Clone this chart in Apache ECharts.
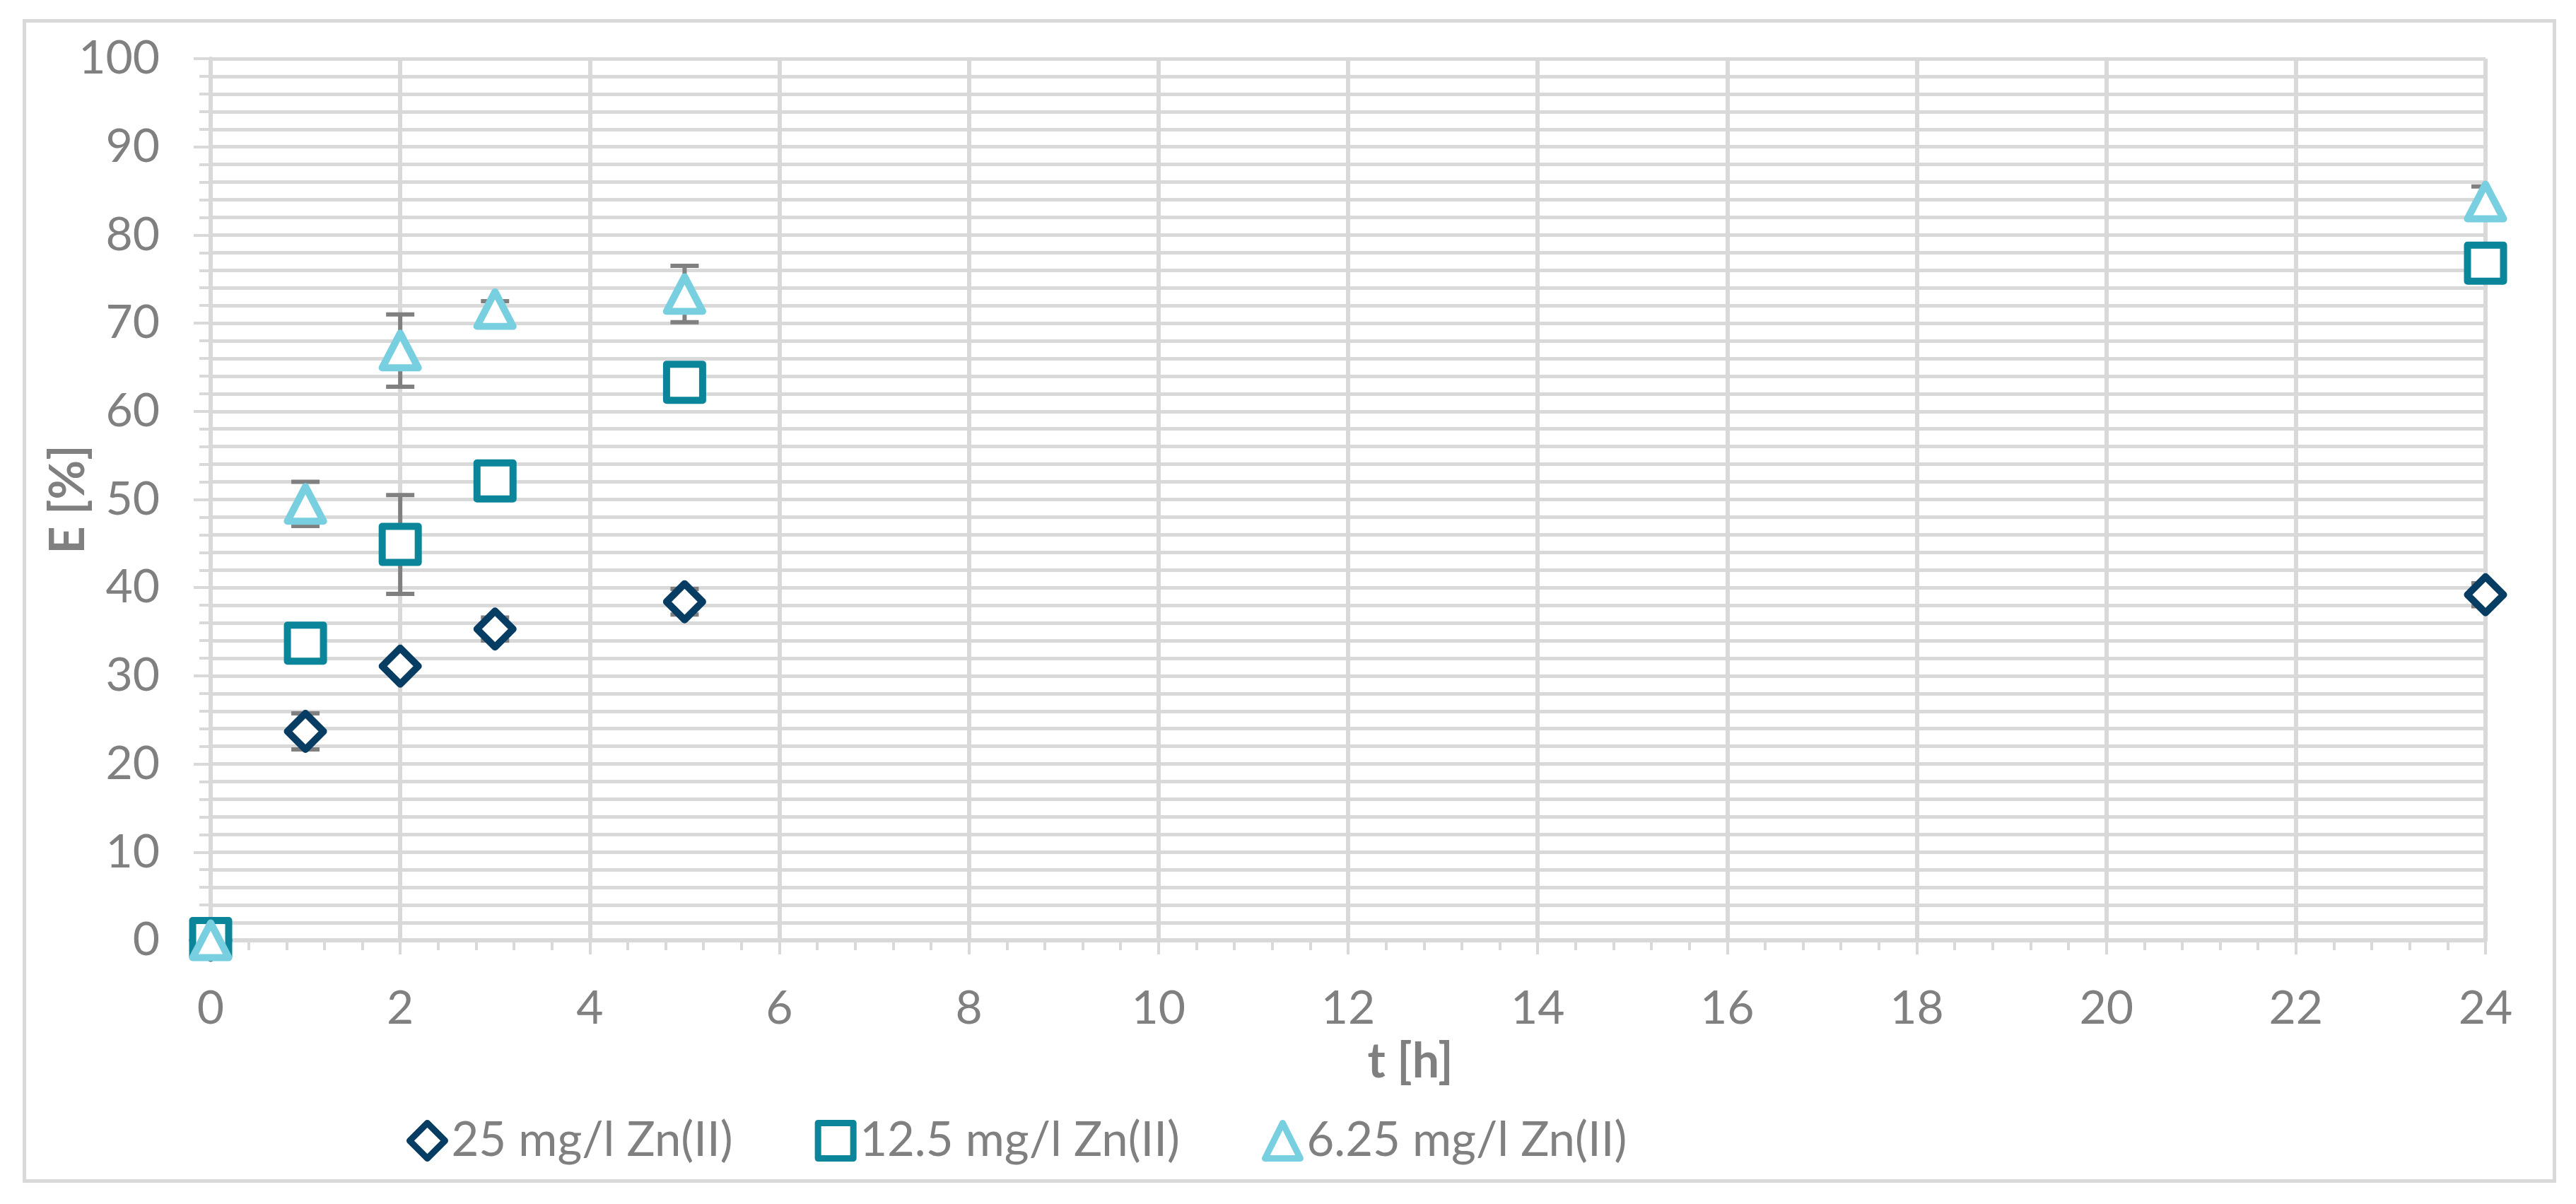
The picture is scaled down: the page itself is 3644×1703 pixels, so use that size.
<!DOCTYPE html>
<html>
<head>
<meta charset="utf-8">
<script src="https://cdn.jsdelivr.net/npm/echarts@6/dist/echarts.min.js"></script>
<style>
html,body{margin:0;padding:0;background:#fff;}
#frame{position:absolute;left:32px;top:27px;width:3574px;height:1636px;border:5px solid #d9d9d9;}
#chart{position:absolute;left:0;top:0;width:3644px;height:1703px;}
</style>
</head>
<body>
<div id="frame"></div>
<div id="chart"></div>
<script>
// ---- data ----
const times = [0, 1, 2, 3, 5, 24];
const seriesNames = ['25 mg/l Zn(II)', '12.5 mg/l Zn(II)', '6.25 mg/l Zn(II)'];
const e25 = [0, 23.7, 31.1, 35.3, 38.4, 39.2];
const e25Err = [0, 2.05, 0.5, 1.3, 1.45, 1.3];
const e125 = [0.2, 33.7, 44.9, 52.1, 63.3, 76.8];
const e125Err = [0, 1.0, 5.6, 1.0, 1.0, 1.0];
const e625 = [0, 49.5, 66.9, 71.6, 73.3, 83.8];
const e625Err = [0, 2.5, 4.1, 0.9, 3.2, 1.7];
const xTicks = [0, 2, 4, 6, 8, 10, 12, 14, 16, 18, 20, 22, 24];
const yTicks = [0, 10, 20, 30, 40, 50, 60, 70, 80, 90, 100];

const colors = ['#083D63', '#0B8599', '#77CFE0'];
const symbols = ['diamond', 'rect', 'triangle'];
const gray = '#808080';
const gridColor = '#d9d9d9';
const FONT = 'Lato, "Open Sans", sans-serif';

const valueSets = [e25, e125, e625];
const errSets = [e25Err, e125Err, e625Err];

function pts(vals) { return times.map((t, i) => [t, vals[i]]); }
function errPts(vals, errs) { return times.map((t, i) => [t, vals[i], errs[i]]); }

const chart = echarts.init(document.getElementById('chart'), null, {renderer: 'canvas'});

const series = [];
// error bars (behind markers)
valueSets.forEach((vals, k) => {
  series.push({
    type: 'custom',
    name: seriesNames[k] + ' err',
    data: errPts(vals, errSets[k]),
    encode: {x: 0, y: 1},
    clip: true,
    silent: true,
    z: 1,
    renderItem: function (params, api) {
      const x = api.value(0), y = api.value(1), e = api.value(2);
      if (!e) return null;
      const top = api.coord([x, y + e]);
      const bot = api.coord([x, y - e]);
      const hw = 20;
      const st = {stroke: gray, lineWidth: 6};
      return {
        type: 'group',
        children: [
          {type: 'line', shape: {x1: top[0], y1: top[1], x2: bot[0], y2: bot[1]}, style: st},
          {type: 'line', shape: {x1: top[0] - hw, y1: top[1], x2: top[0] + hw, y2: top[1]}, style: st},
          {type: 'line', shape: {x1: bot[0] - hw, y1: bot[1], x2: bot[0] + hw, y2: bot[1]}, style: st}
        ]
      };
    }
  });
});
valueSets.forEach((vals, k) => {
  series.push({
    type: 'scatter',
    name: seriesNames[k],
    data: pts(vals),
    symbol: symbols[k],
    symbolSize: k === 2 ? [51, 49] : 51,
    clip: false,
    z: 5 + k,
    itemStyle: {color: '#ffffff', borderColor: colors[k], borderWidth: 10, borderJoin: 'round', opacity: 1},
    emphasis: {disabled: true}
  });
});

const option = {
  backgroundColor: 'transparent',
  animation: false,
  grid: {left: 298, right: 128, top: 83, bottom: 373, containLabel: false},
  legend: {
    data: seriesNames.map((n, k) => ({
      name: n,
      icon: symbols[k],
      itemStyle: {color: '#ffffff', borderColor: colors[k], borderWidth: 9}
    })),
    left: 570,
    top: 1575,
    itemWidth: 50,
    itemHeight: 50,
    itemGap: 116,
    textStyle: {color: gray, fontSize: 67, fontFamily: FONT, padding: [0, 0, 0, 4]},
    selectedMode: false
  },
  xAxis: {
    type: 'value',
    min: 0, max: 24, interval: 2,
    name: 't [h]',
    nameLocation: 'middle',
    nameGap: 138,
    nameTextStyle: {color: gray, fontSize: 68, fontWeight: 'bold', fontFamily: FONT, padding: [0, 0, 0, 176]},
    axisLine: {show: true, lineStyle: {color: gridColor, width: 6}},
    axisTick: {show: true, length: 20, lineStyle: {color: gridColor, width: 4}},
    minorTick: {show: true, splitNumber: 5, length: 14, lineStyle: {color: gridColor, width: 4}},
    splitLine: {show: true, lineStyle: {color: gridColor, width: 6}},
    axisLabel: {
      color: gray, fontSize: 66, fontFamily: FONT, margin: 64,
      formatter: v => xTicks.indexOf(v) >= 0 ? String(v) : ''
    }
  },
  yAxis: {
    type: 'value',
    min: 0, max: 100, interval: 10,
    name: 'E [%]',
    nameLocation: 'middle',
    nameGap: 167,
    nameMoveOverlap: false,
    nameRotate: 90,
    nameTextStyle: {color: gray, fontSize: 68, fontWeight: 'bold', fontFamily: FONT},
    axisLine: {show: true, lineStyle: {color: gridColor, width: 6}},
    axisTick: {show: true, length: 24, lineStyle: {color: gridColor, width: 4}},
    minorTick: {show: true, splitNumber: 5, length: 16, lineStyle: {color: gridColor, width: 4}},
    splitLine: {show: true, lineStyle: {color: gridColor, width: 5}},
    minorSplitLine: {show: true, lineStyle: {color: gridColor, width: 5}},
    axisLabel: {
      color: gray, fontSize: 66, fontFamily: FONT, margin: 72,
      formatter: v => yTicks.indexOf(v) >= 0 ? String(v) : ''
    }
  },
  series: series
};
chart.setOption(option);
</script>
</body>
</html>
